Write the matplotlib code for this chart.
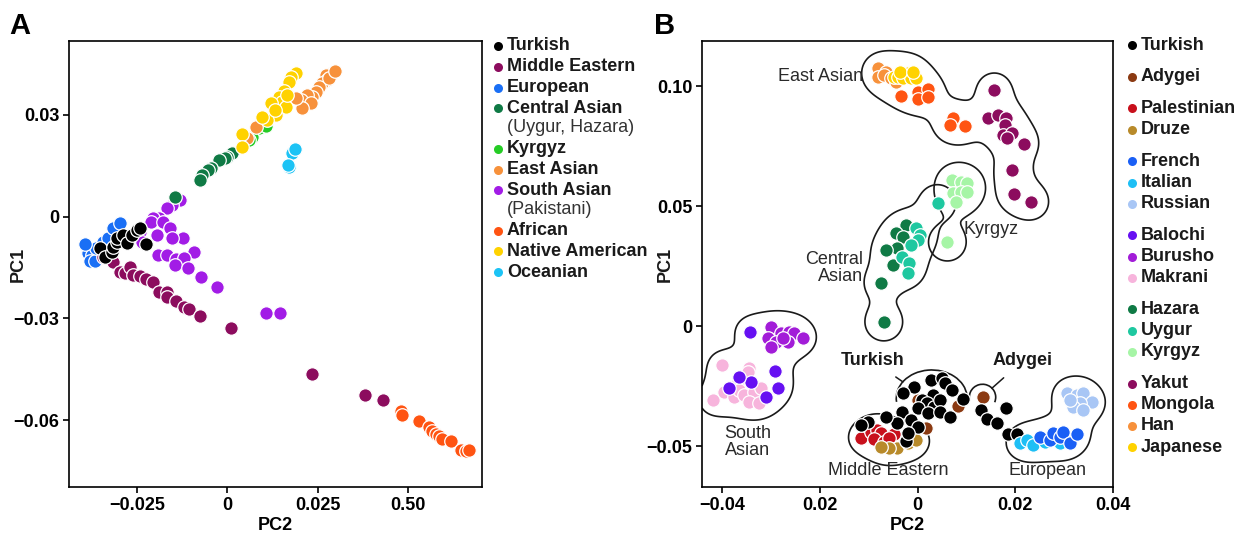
import numpy as np
import matplotlib.pyplot as plt
from matplotlib.patches import Arc
from matplotlib.lines import Line2D

plt.rcParams['font.family'] = ['Liberation Sans', 'DejaVu Sans']
plt.rcParams['axes.unicode_minus'] = True

# ---------------- panel A: worldwide PCA ----------------
a_european = [(-0.0386, -0.0106), (-0.0375, -0.0112), (-0.0381, -0.0132), (-0.0367, -0.0132),
              (-0.0362, -0.0091), (-0.0345, -0.0076), (-0.0331, -0.0062), (-0.0395, -0.0082),
              (-0.0317, -0.0032), (-0.0298, -0.0018)]
a_mideast = [(-0.0345, -0.0118), (-0.0317, -0.0135), (-0.0298, -0.0162), (-0.0284, -0.0165),
             (-0.0270, -0.0147), (-0.0262, -0.0171), (-0.0243, -0.0176), (-0.0224, -0.0185),
             (-0.0207, -0.0194), (-0.0188, -0.0223), (-0.0168, -0.0221), (-0.0166, -0.0238),
             (-0.0141, -0.0250), (-0.0119, -0.0265), (-0.0105, -0.0273), (-0.0077, -0.0294),
             (0.0011, -0.0329), (0.0235, -0.0465), (0.0381, -0.0526), (0.0431, -0.0541)]
a_southasian = [(-0.0132, 0.0050), (-0.0152, 0.0035), (-0.0168, 0.0026), (-0.0188, -0.0003),
                (-0.0207, -0.0003), (-0.0210, -0.0015), (-0.0179, -0.0015), (-0.0160, -0.0032),
                (-0.0243, -0.0044), (-0.0124, -0.0062), (-0.0152, -0.0062), (-0.0196, -0.0053),
                (-0.0235, -0.0076), (-0.0193, -0.0112), (-0.0168, -0.0112), (-0.0141, -0.0126),
                (-0.0091, -0.0103), (-0.0119, -0.0121), (-0.0146, -0.0141), (-0.0110, -0.0150),
                (-0.0072, -0.0179), (-0.0030, -0.0206), (0.0108, -0.0285), (0.0146, -0.0285)]
a_turkish = [(-0.0353, -0.0091), (-0.0339, -0.0118), (-0.0320, -0.0103), (-0.0317, -0.0088),
             (-0.0306, -0.0076), (-0.0304, -0.0062), (-0.0290, -0.0053), (-0.0279, -0.0079),
             (-0.0265, -0.0053), (-0.0251, -0.0038), (-0.0243, -0.0032), (-0.0224, -0.0082)]
a_central = [(0.0014, 0.0188), (0.0000, 0.0176), (-0.0008, 0.0173), (-0.0022, 0.0168),
             (-0.0044, 0.0144), (-0.0055, 0.0138), (-0.0069, 0.0123), (-0.0077, 0.0109),
             (-0.0146, 0.0059)]
a_kyrgyz = [(0.0088, 0.0262), (0.0069, 0.0235), (0.0108, 0.0268), (0.0061, 0.0226)]
a_eastasian = [(0.0290, 0.0423), (0.0273, 0.0417), (0.0276, 0.0403), (0.0262, 0.0394),
               (0.0254, 0.0382), (0.0246, 0.0368), (0.0235, 0.0353), (0.0221, 0.0359),
               (0.0204, 0.0344), (0.0232, 0.0335), (0.0207, 0.0320), (0.0190, 0.0350),
               (0.0055, 0.0232), (0.0080, 0.0265), (0.0282, 0.0409), (0.0298, 0.0429)]
a_native = [(0.0190, 0.0423), (0.0177, 0.0412), (0.0171, 0.0397), (0.0157, 0.0370),
            (0.0144, 0.0353), (0.0152, 0.0338), (0.0121, 0.0335), (0.0163, 0.0323),
            (0.0135, 0.0300), (0.0110, 0.0285), (0.0097, 0.0294), (0.0041, 0.0244),
            (0.0039, 0.0206), (0.0132, 0.0315), (0.0166, 0.0359)]
a_african = [(0.0480, -0.0573), (0.0483, -0.0585), (0.0530, -0.0603), (0.0558, -0.0620),
             (0.0566, -0.0632), (0.0577, -0.0641), (0.0585, -0.0647), (0.0593, -0.0656),
             (0.0618, -0.0662), (0.0646, -0.0688), (0.0660, -0.0691), (0.0668, -0.0688)]
a_oceanian = [(0.0179, 0.0188), (0.0188, 0.0200), (0.0171, 0.0147), (0.0168, 0.0153)]

a_xticks = [-0.025, 0, 0.025, 0.05]
a_xticklabels = ['\u22120.025', '0', '0.025', '0.50']
a_yticks = [0.03, 0, -0.03, -0.06]
a_yticklabels = ['0.03', '0', '\u22120.03', '\u22120.06']

# ---------------- panel B: Eurasian PCA ----------------
b_turkish = [(-0.0008, -0.0254), (-0.0029, -0.0279), (0.0027, -0.0225), (0.0051, -0.0217),
             (0.0057, -0.0238), (0.0071, -0.0267), (0.0094, -0.0304), (0.0031, -0.0288),
             (0.0010, -0.0309), (0.0020, -0.0321), (0.0033, -0.0338), (0.0047, -0.0309),
             (0.0000, -0.0342), (0.0022, -0.0363), (0.0047, -0.0359), (0.0067, -0.0379),
             (-0.0031, -0.0359), (-0.0014, -0.0392), (0.0000, -0.0421), (-0.0041, -0.0404),
             (-0.0065, -0.0379), (-0.0102, -0.0400), (-0.0116, -0.0413), (-0.0024, -0.0479),
             (-0.0020, -0.0446), (0.0129, -0.0350), (0.0143, -0.0388), (0.0163, -0.0404),
             (0.0182, -0.0342), (0.0186, -0.0450), (0.0204, -0.0450)]
b_adygei = [(0.0133, -0.0296), (0.0018, -0.0425), (0.0082, -0.0334), (0.0000, -0.0309)]
b_palestinian = [(-0.0116, -0.0467), (-0.0096, -0.0442), (-0.0082, -0.0434), (-0.0075, -0.0446),
                 (-0.0090, -0.0471), (-0.0069, -0.0484), (-0.0049, -0.0450), (-0.0059, -0.0467)]
b_druze = [(-0.0041, -0.0509), (-0.0059, -0.0509), (-0.0020, -0.0488), (-0.0004, -0.0475),
           (-0.0075, -0.0505)]
b_french = [(0.0251, -0.0463), (0.0271, -0.0475), (0.0277, -0.0446), (0.0292, -0.0463),
            (0.0298, -0.0442), (0.0312, -0.0488), (0.0326, -0.0450)]
b_italian = [(0.0210, -0.0488), (0.0224, -0.0475), (0.0237, -0.0496), (0.0261, -0.0484),
             (0.0292, -0.0488)]
b_russian = [(0.0306, -0.0279), (0.0326, -0.0288), (0.0339, -0.0279), (0.0357, -0.0317),
             (0.0333, -0.0321), (0.0318, -0.0338), (0.0339, -0.0350), (0.0312, -0.0309)]
b_balochi = [(-0.0343, -0.0025), (-0.0292, -0.0188), (-0.0286, -0.0259), (-0.0341, -0.0234),
             (-0.0365, -0.0213), (-0.0310, -0.0296), (-0.0386, -0.0259)]
b_burusho = [(-0.0300, -0.0004), (-0.0280, -0.0029), (-0.0263, -0.0025), (-0.0253, -0.0029),
             (-0.0235, -0.0050), (-0.0306, -0.0050), (-0.0290, -0.0067), (-0.0265, -0.0067),
             (-0.0300, -0.0088), (-0.0275, -0.0050)]
b_makrani = [(-0.0400, -0.0163), (-0.0345, -0.0175), (-0.0347, -0.0192), (-0.0367, -0.0234),
             (-0.0418, -0.0309), (-0.0396, -0.0275), (-0.0375, -0.0296), (-0.0365, -0.0267),
             (-0.0355, -0.0288), (-0.0335, -0.0275), (-0.0345, -0.0317), (-0.0324, -0.0321),
             (-0.0320, -0.0259)]
b_hazara = [(-0.0024, 0.0421), (-0.0045, 0.0388), (-0.0029, 0.0371), (-0.0041, 0.0325),
            (-0.0065, 0.0317), (-0.0051, 0.0254), (-0.0075, 0.0179), (-0.0069, 0.0017)]
b_uygur = [(0.0041, 0.0513), (-0.0004, 0.0409), (0.0006, 0.0379), (0.0000, 0.0359),
           (-0.0014, 0.0338), (-0.0031, 0.0288), (-0.0018, 0.0263), (-0.0020, 0.0221)]
b_kyrgyz = [(0.0071, 0.0609), (0.0088, 0.0600), (0.0102, 0.0596), (0.0073, 0.0555),
            (0.0088, 0.0559), (0.0102, 0.0559), (0.0078, 0.0517), (0.0061, 0.0350)]
b_yakut = [(0.0157, 0.0984), (0.0145, 0.0867), (0.0165, 0.0880), (0.0182, 0.0867),
           (0.0180, 0.0838), (0.0175, 0.0797), (0.0194, 0.0805), (0.0184, 0.0784),
           (0.0218, 0.0759), (0.0194, 0.0651), (0.0198, 0.0550), (0.0233, 0.0517)]
b_mongola = [(-0.0033, 0.0959), (0.0000, 0.0976), (0.0002, 0.0947), (0.0022, 0.0988),
             (0.0022, 0.0955), (0.0073, 0.0867), (0.0067, 0.0838), (0.0098, 0.0834)]
b_han = [(-0.0080, 0.1076), (-0.0080, 0.1038), (-0.0065, 0.1059), (-0.0069, 0.1047),
         (-0.0055, 0.1034), (-0.0045, 0.1017)]
b_japanese = [(-0.0049, 0.1038), (-0.0039, 0.1038), (-0.0029, 0.1034), (-0.0020, 0.1055),
              (-0.0014, 0.1034), (-0.0004, 0.1034), (-0.0035, 0.1059), (-0.0010, 0.1059)]

b_xticks = [-0.04, -0.02, 0, 0.02, 0.04]
b_xticklabels = ['\u22120.04', '0.02', '0', '0.02', '0.04']
b_yticks = [0.10, 0.05, 0, -0.05]
b_yticklabels = ['0.10', '0.05', '0', '\u22120.05']

BLACK = '#000000'
MAROON = '#8c0c5e'
BLUE = '#1a6ff5'
DKGREEN = '#0f7a45'
GREEN = '#25cc25'
ORANGE = '#f7913b'
PURPLE = '#a21ce6'
RED_OR = '#ff5412'
YELLOW = '#ffd200'
SKY = '#1cc3f5'

a_groups = [
    ('Turkish', BLACK, None), ('Middle Eastern', MAROON, None), ('European', BLUE, None),
    ('Central Asian', DKGREEN, '(Uygur, Hazara)'), ('Kyrgyz', GREEN, None),
    ('East Asian', ORANGE, None), ('South Asian', PURPLE, '(Pakistani)'),
    ('African', RED_OR, None), ('Native American', YELLOW, None), ('Oceanian', SKY, None),
]
b_groups = [
    [('Turkish', BLACK)],
    [('Adygei', '#8b3a12')],
    [('Palestinian', '#c8101c'), ('Druze', '#b88a2a')],
    [('French', '#1a5ff5'), ('Italian', '#1ebff5'), ('Russian', '#a8c6f5')],
    [('Balochi', '#6610f2'), ('Burusho', '#a21cd8'), ('Makrani', '#f7b4dc')],
    [('Hazara', DKGREEN), ('Uygur', '#1ec8a0'), ('Kyrgyz', '#a6f5a6')],
    [('Yakut', MAROON), ('Mongola', RED_OR), ('Han', ORANGE), ('Japanese', YELLOW)],
]
bcol = {name: c for grp in b_groups for name, c in grp}

W, H = 1258, 538
fig = plt.figure(figsize=(W / 100, H / 100), dpi=100)
axA = fig.add_axes([69 / W, 51 / H, 413 / W, 446 / H])
axB = fig.add_axes([702 / W, 51 / H, 411 / W, 446 / H])

FS = 13
TXT = '#1a1a1a'


def dots(ax, pts, color):
    p = np.asarray(pts)
    ax.scatter(p[:, 0], p[:, 1], s=95, c=color, edgecolors='white', linewidths=0.9, zorder=3)


def style(ax, xlim, ylim, xt, xtl, yt, ytl):
    ax.set_xlim(*xlim)
    ax.set_ylim(*ylim)
    ax.set_xticks(xt)
    ax.set_xticklabels(xtl)
    ax.set_yticks(yt)
    ax.set_yticklabels(ytl)
    for s in ax.spines.values():
        s.set_linewidth(1.2)
    ax.tick_params(direction='out', length=4, width=1.2, labelsize=FS, pad=3)
    for lab in ax.get_xticklabels() + ax.get_yticklabels():
        lab.set_fontweight('bold')
    ax.set_xlabel('PC2', fontsize=FS, fontweight='bold', labelpad=2)


def outline(ax, groups, sigma=12, level=0.35):
    # smooth blob around a set of points, built in screen-pixel units
    p = np.vstack([np.asarray(g) for g in groups])
    x0, x1 = ax.get_xlim()
    y0, y1 = ax.get_ylim()
    sx = (x1 - x0) / 411.0
    sy = (y1 - y0) / 446.0
    u, v = p[:, 0] / sx, p[:, 1] / sy
    d2 = (u[:, None] - u[None, :]) ** 2 + (v[:, None] - v[None, :]) ** 2
    w = np.exp(-d2 / (2 * sigma ** 2)).sum(axis=1) ** -0.75
    gx = np.linspace(x0, x1, 500)
    gy = np.linspace(y0, y1, 500)
    X, Y = np.meshgrid(gx, gy)
    U, V = X / sx, Y / sy
    F = np.zeros_like(X)
    for a, b, wi in zip(u, v, w):
        F += wi * np.exp(-((U - a) ** 2 + (V - b) ** 2) / (2 * sigma ** 2))
    ax.contour(X, Y, F, levels=[level], colors='#1a1a1a', linewidths=1.2, zorder=2)


# ---- panel A
for pts, col in [(a_european, BLUE), (a_mideast, MAROON), (a_southasian, PURPLE),
                 (a_turkish, BLACK), (a_central, DKGREEN), (a_kyrgyz, GREEN),
                 (a_eastasian, ORANGE), (a_native, YELLOW), (a_african, RED_OR),
                 (a_oceanian, SKY)]:
    dots(axA, pts, col)
style(axA, (-0.0438, 0.0704), (-0.0797, 0.0518), a_xticks, a_xticklabels, a_yticks, a_yticklabels)

# ---- panel B
style(axB, (-0.0441, 0.04), (-0.067, 0.1188), b_xticks, b_xticklabels, b_yticks, b_yticklabels)
outline(axB, [b_japanese, b_han, b_mongola, b_yakut], sigma=13)
outline(axB, [b_hazara, b_uygur], sigma=13)
outline(axB, [b_kyrgyz], sigma=13)
outline(axB, [b_balochi, b_burusho, b_makrani], sigma=13)
outline(axB, [b_palestinian, b_druze])
outline(axB, [b_french, b_italian, b_russian])

for pts, name in [(b_palestinian, 'Palestinian'), (b_druze, 'Druze'), (b_adygei, 'Adygei'),
                  (b_turkish, 'Turkish'), (b_russian, 'Russian'), (b_italian, 'Italian'),
                  (b_french, 'French'), (b_makrani, 'Makrani'), (b_balochi, 'Balochi'),
                  (b_burusho, 'Burusho'), (b_hazara, 'Hazara'), (b_uygur, 'Uygur'),
                  (b_kyrgyz, 'Kyrgyz'), (b_han, 'Han'), (b_japanese, 'Japanese'),
                  (b_mongola, 'Mongola'), (b_yakut, 'Yakut')]:
    dots(axB, pts, bcol[name])

# open arcs with pointers for Turkish and Adygei
axB.add_patch(Arc((0.0029, -0.0300), 0.0145, 0.0235, theta1=8, theta2=192,
                  color='#1a1a1a', lw=1.2, zorder=2))
axB.add_patch(Arc((0.0133, -0.0296), 0.0054, 0.0108, theta1=-40, theta2=185,
                  color='#1a1a1a', lw=1.2, zorder=2))
axB.annotate('Turkish', xy=(-0.0030, -0.0232), xytext=(-0.0092, -0.0145),
             ha='center', va='center', fontsize=FS, fontweight='bold', color=TXT,
             arrowprops=dict(arrowstyle='-', color='#1a1a1a', lw=1.1, shrinkA=6, shrinkB=0))
axB.annotate('Adygei', xy=(0.0152, -0.0259), xytext=(0.0215, -0.0145),
             ha='center', va='center', fontsize=FS, fontweight='bold', color=TXT,
             arrowprops=dict(arrowstyle='-', color='#1a1a1a', lw=1.1, shrinkA=6, shrinkB=0))

region_labels = [
    ('East Asian', -0.0112, 0.1042, 'right'),
    ('Kyrgyz', 0.0094, 0.0404, 'left'),
    ('Central\nAsian', -0.0112, 0.0242, 'right'),
    ('South\nAsian', -0.0347, -0.0482, 'center'),
    ('Middle Eastern', -0.0059, -0.0600, 'center'),
    ('European', 0.0265, -0.0600, 'center'),
]
for txt, x, y, ha in region_labels:
    axB.text(x, y, txt, ha=ha, va='center', fontsize=FS, color='#2a2a2a', linespacing=1.05)

# ---- axis titles and panel letters
fig.text(18 / W, 1 - 264 / H, 'PC1', rotation=90, ha='center', va='center',
         fontsize=FS, fontweight='bold', color=TXT)
fig.text(665 / W, 1 - 264 / H, 'PC1', rotation=90, ha='center', va='center',
         fontsize=FS, fontweight='bold', color=TXT)
fig.text(9 / W, 1 - 26 / H, 'A', fontsize=21, fontweight='bold', va='center', ha='left')
fig.text(654 / W, 1 - 26 / H, 'B', fontsize=21, fontweight='bold', va='center', ha='left')


def key(xm, xt, yp, color, label, bold=True):
    fig.add_artist(Line2D([xm / W], [1 - yp / H], marker='o', ms=6.5, mfc=color, mec='none',
                          ls='none', transform=fig.transFigure))
    fig.text(xt / W, 1 - yp / H, label, fontsize=FS, va='center', ha='left', color=TXT,
             fontweight='bold' if bold else 'normal')


# legend A
yp = 46
for name, col, sub in a_groups:
    key(498, 507, yp, col, name)
    yp += 20.8
    if sub:
        fig.text(507 / W, 1 - (yp - 1.5) / H, sub, fontsize=FS, va='center', ha='left', color='#333333')
        yp += 19.5

# legend B
yp = 45
for grp in b_groups:
    for name, col in grp:
        key(1132, 1141, yp, col, name)
        yp += 21.2
    yp += 10.5

fig.savefig('out.png', dpi=100)
